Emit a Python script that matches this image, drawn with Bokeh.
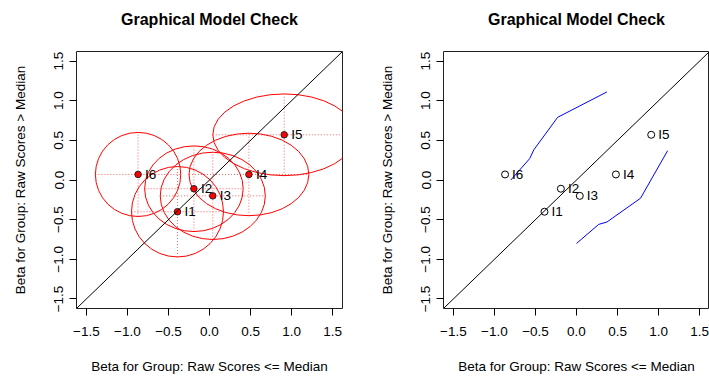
from bokeh.plotting import figure
from bokeh.layouts import row
from bokeh.models import Range1d, FixedTicker, CustomJSTickFormatter, Slope, ColumnDataSource, Title
from bokeh.embed import file_html
from bokeh.resources import INLINE
from bokeh.core.properties import value

# ---- data ----
items = ["I1", "I2", "I3", "I4", "I5", "I6"]
beta_low = [-0.39, -0.19, 0.04, 0.48, 0.91, -0.87]
beta_high = [-0.40, -0.11, -0.20, 0.07, 0.57, 0.07]
ci_x = [0.56, 0.60, 0.64, 0.73, 0.87, 0.52]
ci_y = [0.57, 0.54, 0.55, 0.52, 0.515, 0.53]

upper_x = [-0.80, -0.57, -0.52, -0.23, 0.37]
upper_y = [0.00, 0.27, 0.38, 0.79, 1.11]
lower_x = [0.00, 0.27, 0.37, 0.78, 1.11]
lower_y = [-0.80, -0.56, -0.53, -0.23, 0.37]

ticks = [-1.5, -1.0, -0.5, 0.0, 0.5, 1.0, 1.5]
title_text = "Graphical Model Check"
xlab = "Beta for Group: Raw Scores <= Median"
ylab = "Beta for Group: Raw Scores > Median"

FONT = "Liberation Sans"
FS = "13.5px"
LIM = 1.62


def base_fig(width, left, right):
    p = figure(width=width, height=376, output_backend="svg", toolbar_location=None,
               x_range=Range1d(-LIM, LIM), y_range=Range1d(-LIM, LIM),
               min_border_left=left, min_border_right=right,
               min_border_top=51, min_border_bottom=67, title_location=None)
    p.grid.visible = False
    p.outline_line_color = "#222222"
    p.outline_line_width = 1
    p.background_fill_color = "white"
    p.border_fill_color = "white"
    # spacer between frame and title, then the title itself (added further out)
    p.add_layout(Title(text=" ", text_font_size="20px", standoff=0), "above")
    p.add_layout(Title(text=title_text, align="center", text_font=FONT,
                       text_font_size="16px", text_font_style="bold",
                       text_color="black", standoff=0), "above")
    fmt = CustomJSTickFormatter(code="return tick.toFixed(1).replace('-', '\u2212');")
    for ax, lab in ((p.xaxis, xlab), (p.yaxis, ylab)):
        ax.ticker = FixedTicker(ticks=ticks)
        ax.formatter = fmt
        ax.axis_line_color = None
        ax.major_tick_in = 0
        ax.major_tick_out = 7
        ax.minor_tick_line_color = None
        ax.major_tick_line_color = "black"
        ax.major_label_text_font = FONT
        ax.major_label_text_font_size = FS
        ax.major_label_text_color = "black"
        ax.axis_label = lab
        ax.axis_label_text_font = FONT
        ax.axis_label_text_font_size = FS
        ax.axis_label_text_font_style = "normal"
        ax.axis_label_text_color = "black"
    p.xaxis.major_label_standoff = 11
    p.xaxis.axis_label_standoff = 20
    p.yaxis.major_label_orientation = "vertical"
    p.yaxis.major_label_standoff = 6
    p.yaxis.axis_label_standoff = 24
    p.add_layout(Slope(gradient=1, y_intercept=0, line_color="black", line_width=1))
    return p


src = ColumnDataSource(dict(
    item=items, x=beta_low, y=beta_high,
    w=[2 * a for a in ci_x], h=[2 * b for b in ci_y],
    x0=[x - a for x, a in zip(beta_low, ci_x)], x1=[x + a for x, a in zip(beta_low, ci_x)],
    y0=[y - b for y, b in zip(beta_high, ci_y)], y1=[y + b for y, b in zip(beta_high, ci_y)],
))

# ---- left panel ----
p1 = base_fig(354, 76, 12)
p1.segment(x0="x0", y0="y", x1="x1", y1="y", source=src, line_color="#ff6060",
           line_dash="1 2", line_width=1)
p1.segment(x0="x", y0="y0", x1="x", y1="y1", source=src, line_color="#ff6060",
           line_dash="1 2", line_width=1)
p1.ellipse(x="x", y="y", width="w", height="h", source=src, fill_color=None,
           line_color="red", line_width=1)
p1.scatter(x="x", y="y", source=src, size=6.5, fill_color="red", line_color="#222222", line_width=1)
p1.text(x="x", y="y", text="item", source=src, x_offset=7, text_baseline="middle",
        text_font=value(FONT), text_font_size=FS, text_color="black")

# ---- right panel ----
p2 = base_fig(355, 89, 0)
p2.line(upper_x, upper_y, line_color="blue", line_width=1)
p2.line(lower_x, lower_y, line_color="blue", line_width=1)
p2.scatter(x="x", y="y", source=src, size=7, fill_color=None, line_color="black", line_width=1)
p2.text(x="x", y="y", text="item", source=src, x_offset=7, text_baseline="middle",
        text_font=value(FONT), text_font_size=FS, text_color="black")

layout = row(p1, p2)
open("out.html", "w").write(file_html(layout, INLINE))
